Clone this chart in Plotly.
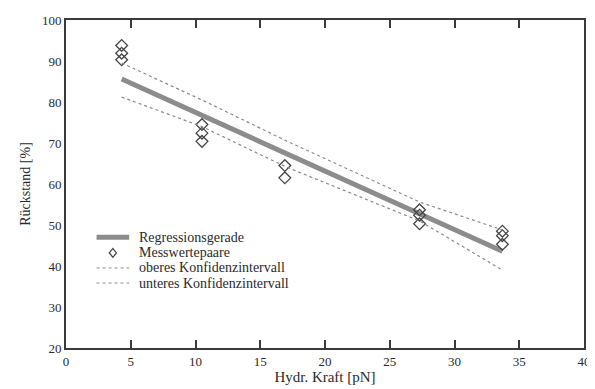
import plotly.graph_objects as go

# Measured pairs (x in pN, y in %)
meas_x = [4.3, 4.3, 4.3, 10.5, 10.5, 10.5, 16.9, 16.9, 27.3, 27.3, 27.3, 33.7, 33.7, 33.7]
meas_y = [93.8, 91.9, 90.3, 74.5, 72.4, 70.4, 64.5, 61.5, 53.7, 52.4, 50.3, 48.5, 47.4, 45.3]

# Regression line
reg_x = [4.3, 33.7]
reg_y = [85.6, 43.6]

# Confidence intervals
ci_x = [4.3, 10.5, 16.9, 27.3, 33.7]
ci_upper = [89.5, 80.5, 70.7, 55.6, 48.8]
ci_lower = [81.2, 74.0, 64.3, 51.0, 39.0]

x_ticks = [0, 5, 10, 15, 20, 25, 30, 35, 40]
y_ticks = [20, 30, 40, 50, 60, 70, 80, 90, 100]

legend_labels = ["Regressionsgerade", "Messwertepaare",
                 "oberes Konfidenzintervall", "unteres Konfidenzintervall"]

font_family = "Liberation Serif"
axis_col = "#3a3a3a"
text_col = "#2a2a2a"
reg_col = "#8c8c8c"
ci_col = "#8a8a8a"
mk_col = "#444444"

fig = go.Figure()
fig.add_trace(go.Scatter(x=reg_x, y=reg_y, mode="lines", name=legend_labels[0],
                         line=dict(color=reg_col, width=5), showlegend=False))
fig.add_trace(go.Scatter(x=meas_x, y=meas_y, mode="markers", name=legend_labels[1],
                         marker=dict(symbol="diamond-open", size=9, color=mk_col,
                                     line=dict(width=1.3, color=mk_col)), showlegend=False))
fig.add_trace(go.Scatter(x=ci_x, y=ci_upper, mode="lines", name=legend_labels[2],
                         line=dict(color=ci_col, width=1.2, dash="3px,3px"), showlegend=False))
fig.add_trace(go.Scatter(x=ci_x, y=ci_lower, mode="lines", name=legend_labels[3],
                         line=dict(color=ci_col, width=1.2, dash="3px,3px"), showlegend=False))

# Compact legend (drawn in paper coordinates)
row_y = [0.338, 0.290, 0.244, 0.198]
sx0, sx1, tx = 0.059, 0.122, 0.137
shapes = []
annotations = []
shapes.append(dict(type="line", xref="paper", yref="paper", x0=sx0, x1=sx1,
                   y0=row_y[0], y1=row_y[0], line=dict(color=reg_col, width=5)))
cx, cy, hw, hh = (sx0 + sx1) / 2, row_y[1], 0.0068, 0.0135
shapes.append(dict(type="path", xref="paper", yref="paper",
                   path=f"M {cx-hw} {cy} L {cx} {cy+hh} L {cx+hw} {cy} L {cx} {cy-hh} Z",
                   line=dict(color=mk_col, width=1.3)))
for ry in row_y[2:]:
    shapes.append(dict(type="line", xref="paper", yref="paper", x0=sx0, x1=sx1,
                       y0=ry, y1=ry, line=dict(color=ci_col, width=1, dash="3px,3px")))
for lab, ry in zip(legend_labels, row_y):
    annotations.append(dict(text=lab, xref="paper", yref="paper", x=tx, y=ry,
                            xanchor="left", yanchor="middle", showarrow=False,
                            font=dict(size=14, family=font_family, color=text_col)))

fig.update_layout(
    width=587, height=381,
    margin=dict(l=58, r=4, t=12, b=41),
    paper_bgcolor="white", plot_bgcolor="white",
    font=dict(family=font_family, size=13, color=text_col),
    showlegend=False,
    shapes=shapes, annotations=annotations,
)
fig.update_xaxes(range=[0, 40], tickvals=x_ticks, ticks="inside", ticklen=8, tickwidth=2,
                 tickcolor=axis_col, showline=True, linecolor=axis_col, linewidth=2,
                 mirror="ticks", showgrid=False, zeroline=False, ticklabeloverflow="allow",
                 tickfont=dict(size=13, color=text_col),
                 title=dict(text="Hydr. Kraft [pN]", font=dict(size=15), standoff=4))
fig.update_yaxes(range=[20, 100], tickvals=y_ticks, ticks="", showline=True,
                 linecolor=axis_col, linewidth=2, mirror=True, showgrid=False, zeroline=False,
                 tickfont=dict(size=13, color=text_col),
                 title=dict(text="Rückstand [%]", font=dict(size=14), standoff=8))

fig.write_html("out.html")
